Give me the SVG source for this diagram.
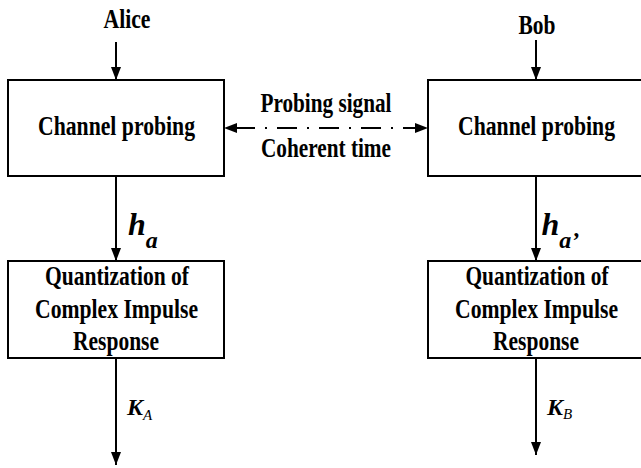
<svg xmlns="http://www.w3.org/2000/svg" width="641" height="468" viewBox="0 0 641 468">
  <style>
    .box { fill: #ffffff; stroke: #000000; stroke-width: 2; }
    .lbl { font-family: 'Liberation Serif', 'DejaVu Serif', serif; font-weight: bold; font-size: 27px; fill: #000000; text-anchor: middle; }
    .var { font-family: 'Liberation Serif', 'DejaVu Serif', serif; font-weight: bold; font-style: italic; fill: #000000; }
    .sub { font-weight: normal; }
    .wire { fill: none; stroke: #000000; stroke-width: 2; }
    .dashdot { stroke-dasharray: 20 10 2 10; stroke-dashoffset: 31; }
  </style>
  <defs>
    <marker id="head" markerUnits="userSpaceOnUse" viewBox="0 0 13 10" markerWidth="13" markerHeight="10" refX="13" refY="5" orient="auto-start-reverse">
      <path d="M0,0 L13,5 L0,10 Z" fill="#000000"/>
    </marker>
  </defs>

  <!-- connectors -->
  <g id="connectors">
    <path class="wire" d="M116,42 V80" marker-end="url(#head)"/>
    <path class="wire" d="M536,40 V80" marker-end="url(#head)"/>
    <path class="wire dashdot" d="M224,128 H428" marker-start="url(#head)" marker-end="url(#head)"/>
    <path class="wire" d="M116,177 V261" marker-end="url(#head)"/>
    <path class="wire" d="M536,177 V261" marker-end="url(#head)"/>
    <path class="wire" d="M116,359 V465" marker-end="url(#head)"/>
    <path class="wire" d="M536,359 V455" marker-end="url(#head)"/>
  </g>

  <!-- inputs -->
  <g id="alice">
    <text class="lbl" x="127" y="28" textLength="47" lengthAdjust="spacingAndGlyphs">Alice</text>
  </g>
  <g id="bob">
    <text class="lbl" x="537" y="34" textLength="37" lengthAdjust="spacingAndGlyphs">Bob</text>
  </g>

  <!-- probing boxes -->
  <g id="probe-a">
    <rect class="box" x="8" y="80" width="216" height="96"/>
    <text class="lbl" x="116.5" y="135" textLength="157" lengthAdjust="spacingAndGlyphs">Channel probing</text>
  </g>
  <g id="probe-b">
    <rect class="box" x="428" y="80" width="216" height="96"/>
    <text class="lbl" x="536.5" y="135" textLength="157" lengthAdjust="spacingAndGlyphs">Channel probing</text>
  </g>

  <!-- link between the probing boxes -->
  <g id="link-labels">
    <text class="lbl" x="326" y="112" textLength="131" lengthAdjust="spacingAndGlyphs">Probing signal</text>
    <text class="lbl" x="326" y="157" textLength="130" lengthAdjust="spacingAndGlyphs">Coherent time</text>
  </g>

  <!-- channel estimates -->
  <g id="ha">
    <text class="var" x="128" y="235" font-size="32">h<tspan font-size="24" dy="13">a</tspan></text>
  </g>
  <g id="ha-prime">
    <text class="var" x="541.5" y="235" font-size="32">h<tspan font-size="24" dy="13">a’</tspan></text>
  </g>

  <!-- quantization boxes -->
  <g id="quant-a">
    <rect class="box" x="8" y="261" width="216" height="97"/>
    <text class="lbl" x="117" y="285" textLength="144" lengthAdjust="spacingAndGlyphs">Quantization of</text>
    <text class="lbl" x="116.5" y="318" textLength="163" lengthAdjust="spacingAndGlyphs">Complex Impulse</text>
    <text class="lbl" x="116" y="350" textLength="86" lengthAdjust="spacingAndGlyphs">Response</text>
  </g>
  <g id="quant-b">
    <rect class="box" x="428" y="261" width="216" height="97"/>
    <text class="lbl" x="537" y="285" textLength="143" lengthAdjust="spacingAndGlyphs">Quantization of</text>
    <text class="lbl" x="536.5" y="318" textLength="163" lengthAdjust="spacingAndGlyphs">Complex Impulse</text>
    <text class="lbl" x="536" y="350" textLength="86" lengthAdjust="spacingAndGlyphs">Response</text>
  </g>

  <!-- keys -->
  <g id="ka">
    <text class="var" x="127" y="415" font-size="24">K<tspan class="sub" font-size="15" dy="5">A</tspan></text>
  </g>
  <g id="kb">
    <text class="var" x="547" y="415" font-size="24">K<tspan class="sub" font-size="15" dy="4">B</tspan></text>
  </g>
</svg>
